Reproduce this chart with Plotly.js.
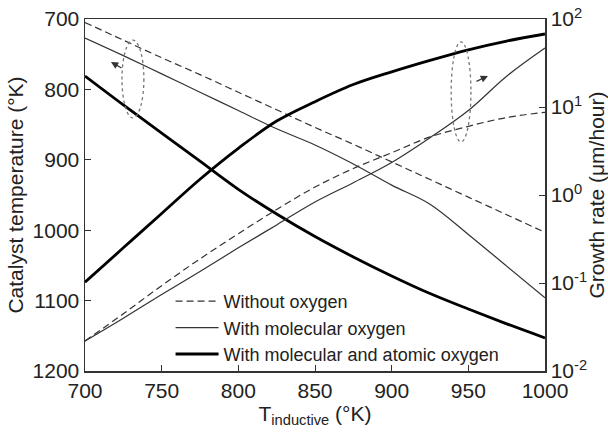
<!DOCTYPE html>
<html>
<head>
<meta charset="utf-8">
<script src="https://cdn.plot.ly/plotly-3.0.1.min.js"></script>
<style>html,body{margin:0;padding:0;background:#fff;}#chart{width:608px;height:432px;}</style>
</head>
<body>
<div id="chart"></div>
<script>
// Inductive temperature (°K)
var xs = [700, 725, 750, 775, 800, 825, 850, 875, 900, 925, 950, 975, 1000];

// Catalyst temperature (°K) — left axis
var tempNoO2     = [705, 730, 755, 779, 804, 829, 854, 878, 903, 928, 953, 978, 1003];
var tempMolO2    = [727, 752, 778, 804, 830, 856, 879, 906, 936, 963, 1006, 1051, 1096];
var tempMolAtO2  = [781, 822, 862, 902, 942, 977, 1009, 1038, 1065, 1090, 1112, 1133, 1153];

// Growth rate (µm/hour) — right log axis
var growthNoO2    = [0.0219, 0.0447, 0.0933, 0.188, 0.363, 0.684, 1.23, 2.0, 3.02, 4.57, 6.03, 7.59, 8.71];
var growthMolO2   = [0.0219, 0.0398, 0.0741, 0.135, 0.251, 0.457, 0.832, 1.38, 2.34, 4.47, 9.12, 22.4, 46.8];
var growthMolAtO2 = [0.102, 0.251, 0.617, 1.51, 3.39, 6.92, 11.5, 18.0, 25.1, 33.9, 44.7, 56.2, 67.6];

var seriesNames = ["Without oxygen", "With molecular oxygen", "With molecular and atomic oxygen"];

var xTicks = [700, 750, 800, 850, 900, 950, 1000];
var yTicks = [700, 800, 900, 1000, 1100, 1200];
var y2Ticks = [0.01, 0.1, 1, 10, 100];
var y2TickText = ["10<sup>-2</sup>", "10<sup>-1</sup>", "10<sup>0</sup>", "10<sup>1</sup>", "10<sup>2</sup>"];

var styles = [
  {color: "#333", width: 1.2, dash: "7px,4px"},
  {color: "#333", width: 1.2, dash: "solid"},
  {color: "#000", width: 2.8, dash: "solid"}
];
var temps = [tempNoO2, tempMolO2, tempMolAtO2];
var growths = [growthNoO2, growthMolO2, growthMolAtO2];

var traces = [];
for (var i = 0; i < 3; i++) {
  traces.push({
    x: xs, y: temps[i], type: "scatter", mode: "lines",
    name: seriesNames[i], legendgroup: "g" + i, showlegend: true,
    line: {color: styles[i].color, width: styles[i].width, dash: styles[i].dash, shape: "spline", smoothing: 1},
    hoverinfo: "skip"
  });
  traces.push({
    x: xs, y: growths[i], type: "scatter", mode: "lines", yaxis: "y2",
    name: seriesNames[i], legendgroup: "g" + i, showlegend: false,
    line: {color: styles[i].color, width: styles[i].width, dash: styles[i].dash, shape: "spline", smoothing: 1},
    hoverinfo: "skip"
  });
}

var font = "Liberation Sans, Arial, sans-serif";
var axisColor = "#333";

var layout = {
  width: 608, height: 432,
  margin: {l: 85, r: 63, t: 19, b: 61},
  paper_bgcolor: "#fff", plot_bgcolor: "#fff",
  font: {family: font, size: 21, color: "#222"},
  showlegend: true,
  legend: {
    x: 0.186, y: 0.25, xanchor: "left", yanchor: "top",
    bgcolor: "rgba(0,0,0,0)", borderwidth: 0,
    font: {family: font, size: 18, color: "#222"},
    itemwidth: 43, tracegroupgap: 0
  },
  xaxis: {
    range: [700, 1000], tickvals: xTicks, ticks: "inside", ticklen: 6, tickcolor: axisColor,
    showline: true, linecolor: axisColor, linewidth: 1.5, mirror: true, showgrid: false, zeroline: false,
    tickfont: {family: font, size: 21, color: "#222"},
    title: {text: "T<sub>inductive</sub> (°K)", font: {family: font, size: 21, color: "#222"}, standoff: 0}
  },
  yaxis: {
    range: [1200, 700], tickvals: yTicks, ticks: "inside", ticklen: 6, tickcolor: axisColor,
    showline: true, linecolor: axisColor, linewidth: 1.5, showgrid: false, zeroline: false,
    tickfont: {family: font, size: 21, color: "#222"},
    title: {text: "Catalyst temperature (°K)", font: {family: font, size: 21, color: "#222"}, standoff: 3}
  },
  yaxis2: {
    type: "log", range: [-2, 2], overlaying: "y", side: "right",
    tickvals: y2Ticks, ticktext: y2TickText, ticks: "inside", ticklen: 6, tickcolor: axisColor,
    showline: true, linecolor: axisColor, linewidth: 1.5, showgrid: false, zeroline: false,
    tickfont: {family: font, size: 21, color: "#222"},
    title: {text: "Growth rate (μm/hour)", font: {family: font, size: 21, color: "#222"}, standoff: 0}
  },
  shapes: [
    {type: "circle", xref: "paper", yref: "paper", x0: 0.0804, x1: 0.128, y0: 0.719, y1: 0.940,
     line: {color: "#777", width: 1.3, dash: "dot"}},
    {type: "circle", xref: "paper", yref: "paper", x0: 0.796, x1: 0.839, y0: 0.651, y1: 0.935,
     line: {color: "#777", width: 1.3, dash: "dot"}}
  ],
  annotations: [
    {xref: "paper", yref: "paper", x: 0.0565, y: 0.878, ax: 12, ay: 7, text: "",
     showarrow: true, arrowhead: 2, arrowsize: 1.2, arrowwidth: 1.2, arrowcolor: "#333"},
    {xref: "paper", yref: "paper", x: 0.876, y: 0.838, ax: -13, ay: 6, text: "",
     showarrow: true, arrowhead: 2, arrowsize: 1.2, arrowwidth: 1.2, arrowcolor: "#333"}
  ]
};

Plotly.newPlot("chart", traces, layout, {staticPlot: true, displayModeBar: false});
</script>
</body>
</html>
